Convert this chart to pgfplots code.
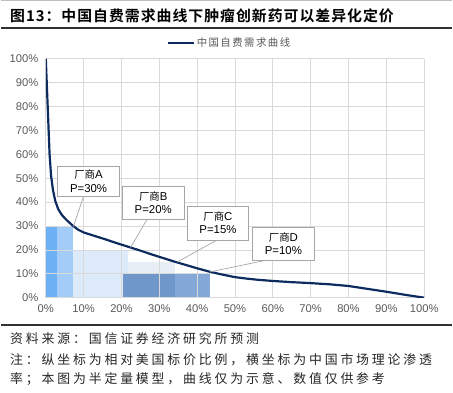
\documentclass[border=0pt]{standalone}
\usepackage{pgfplots}
\pgfplotsset{compat=1.18}
\usepackage{fontspec}
\setmainfont{Liberation Sans}
\newfontfamily\cjk{Noto Sans CJK SC}
\newfontfamily\cjkleg[LetterSpace=14]{Noto Sans CJK SC}
\newfontfamily\cjkfoot[LetterSpace=22]{Noto Sans CJK SC}
\newfontfamily\cjktitle[LetterSpace=6.7]{Noto Sans CJK SC Bold}
\definecolor{curve}{RGB}{13,43,94}
\definecolor{gridc}{RGB}{217,217,217}
\definecolor{tickc}{RGB}{89,89,89}
\definecolor{boxc}{RGB}{166,166,166}
\definecolor{ruleC}{RGB}{50,50,50}
\definecolor{barA1}{RGB}{109,177,244}
\definecolor{barA2}{RGB}{163,205,248}
\definecolor{barB}{RGB}{220,234,250}
\definecolor{barC}{RGB}{232,238,246}
\definecolor{barD1}{RGB}{111,151,201}
\definecolor{barD2}{RGB}{132,168,215}
\begin{document}
\begin{tikzpicture}[x=1bp,y=1bp]
\draw[gray!50, line width=0.8bp] (0,393.6) -- (453,393.6);
\node[anchor=west, inner sep=0] at (9,378) {\fontsize{15}{16}\selectfont\cjktitle 图13：中国自费需求曲线下肿瘤创新药可以差异化定价};
\draw[line width=2bp, color=ruleC] (0,365.5) -- (453,365.5);
\begin{axis}[
  at={(45bp,95bp)}, anchor=south west, scale only axis,
  width=380bp, height=240bp,
  set layers=standard,
  xmin=0, xmax=100, ymin=0, ymax=100,
  xtick={0,10,...,100}, ytick={0,10,...,100},
  xticklabels={0\%,10\%,20\%,30\%,40\%,50\%,60\%,70\%,80\%,90\%,100\%},
  yticklabels={0\%,10\%,20\%,30\%,40\%,50\%,60\%,70\%,80\%,90\%,100\%},
  grid=major, major grid style={draw=gridc, line width=0.7bp},
  axis line style={draw=none}, tick style={draw=none},
  tick label style={font=\fontsize{11.3}{12}\selectfont, text=tickc},
  yticklabel style={xshift=-4bp},
  xticklabel style={yshift=-3bp},
  legend style={at={(0.4855,1.0646)}, anchor=center, draw=none, fill=none,
    inner sep=0pt, font=\fontsize{10.5}{12}\selectfont\cjkleg, text=tickc,
    nodes={inner sep=1.5bp}},
  legend image code/.code={\draw[#1, line width=2.2bp] (0bp,0bp) -- (26bp,0bp);},
]
\addplot[fill=barB, draw=none, on layer=axis background, forget plot] coordinates {(3,0) (21.8,0) (21.8,20) (3,20)} -- cycle;
\addplot[fill=barC, draw=none, on layer=axis background, forget plot] coordinates {(21.8,0) (34.2,0) (34.2,15) (21.8,15)} -- cycle;
\addplot[fill=barA1, draw=none, on layer=axis background, forget plot] coordinates {(0,0) (3,0) (3,30) (0,30)} -- cycle;
\addplot[fill=barA2, draw=none, on layer=axis background, forget plot] coordinates {(3,0) (7.2,0) (7.2,30) (3,30)} -- cycle;
\addplot[fill=barD1, draw=none, on layer=axis background, forget plot] coordinates {(20.5,0) (34.2,0) (34.2,10) (20.5,10)} -- cycle;
\addplot[fill=barD2, draw=none, on layer=axis background, forget plot] coordinates {(34.2,0) (43.4,0) (43.4,10) (34.2,10)} -- cycle;
\addplot[color=curve, line width=2.2bp, line join=round] coordinates {
(0,100) (0.25,90) (0.5,80) (0.75,70) (1.0,60) (1.4,51) (1.9,45) (2.5,40.5)
(3.3,37) (4.3,34.5) (5.5,32.5) (7,30.3) (8.5,28.5) (10,27.3) (13,25.8)
(16,24.3) (19,22.7) (22,21.2) (25,19.7) (28,18.1) (31,16.6) (34,15.1)
(37,13.7) (40,12.3) (43,11) (46,9.9) (50,8.6) (53,8.0) (56,7.5) (60,7.0)
(65,6.5) (70,6.1) (75,5.6) (80,4.9) (85,3.7) (90,2.5) (95,1.2) (100,0)};
\addlegendentry{中国自费需求曲线}
\draw[boxc, line width=0.7bp] (axis cs:10.0,42.5) -- (axis cs:7.3,29.8);
\draw[boxc, line width=0.7bp] (axis cs:26.8,32.9) -- (axis cs:22.4,21.0);
\draw[boxc, line width=0.7bp] (axis cs:45.8,24.6) -- (axis cs:34.7,14.9);
\draw[boxc, line width=0.7bp] (axis cs:57.4,15.4) -- (axis cs:43.4,10.8);
\tikzset{anno/.style={draw=boxc, line width=0.8bp, fill=white, minimum width=62bp,
  inner sep=0pt, align=center, font=\fontsize{11.5}{13.3}\selectfont}}
\node[anno, minimum height=30bp] at (axis cs:11.3,48.75) {{\fontsize{10.5}{13.3}\selectfont\cjk 厂商}A\\P=30\%};
\node[anno, minimum height=33bp] at (axis cs:28.4,39.8) {{\fontsize{10.5}{13.3}\selectfont\cjk 厂商}B\\P=20\%};
\node[anno, minimum height=34bp] at (axis cs:45.5,31.25) {{\fontsize{10.5}{13.3}\selectfont\cjk 厂商}C\\P=15\%};
\node[anno, minimum height=34bp] at (axis cs:62.8,22.5) {{\fontsize{10.5}{13.3}\selectfont\cjk 厂商}D\\P=10\%};
\end{axis}
\draw[line width=2bp, color=ruleC] (0,68) -- (453,68);
\node[anchor=west, inner sep=0, text=black!85] at (9,54) {\fontsize{13}{14}\selectfont\cjkfoot 资料来源：国信证券经济研究所预测};
\node[anchor=west, inner sep=0, text=black!85] at (9,33) {\fontsize{13}{14}\selectfont\cjkfoot 注：纵坐标为相对美国标价比例，横坐标为中国市场理论渗透};
\node[anchor=west, inner sep=0, text=black!85] at (9,13) {\fontsize{13}{14}\selectfont\cjkfoot 率；本图为半定量模型，曲线仅为示意、数值仅供参考};
\path (0,0) rectangle (453,394);
\end{tikzpicture}
\end{document}
